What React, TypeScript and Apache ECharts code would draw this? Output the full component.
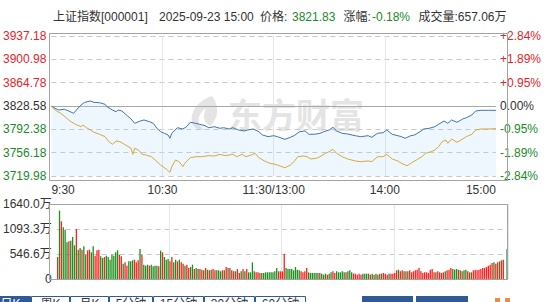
import React, { useEffect, useRef } from "react";
import * as echarts from "echarts";

// ---------- data ----------
const stockName = "上证指数[000001]";
const quoteTime = "2025-09-23 15:00";
const lastPrice = "3821.83";
const changePct = "-0.18%";
const totalVolume = "657.06万";
const preClose = 3828.58;
const priceStep = 36.2;
const volumeMax = 1640;

const timeLabelIdx = [0, 60, 120, 180, 240];

// index line (minute index, value)
const priceIdx = [0,2,4,7,9,12,14,16,18,21,23,26,29,30,33,35,36,38,41,43,45,48,50,53,55,57,59,61,63,64,65,68,71,73,75,78,80,83,85,88,91,93,96,98,101,104,106,109,112,114,117,120,122,126,129,131,134,137,139,142,145,147,150,152,154,157,160,164,167,171,173,176,179,181,184,187,189,191,194,196,199,201,204,207,209,212,214,216,219,222,224,227,229,232,236,240];
const priceValues = [3828.58,3825.0,3822.4,3823.5,3821.3,3817.3,3823.9,3830.1,3834.3,3836.3,3834.3,3833.7,3831.2,3827.5,3822.4,3819.7,3822.4,3820.9,3813.5,3808.4,3801.7,3805.3,3806.9,3804.2,3801.7,3794.0,3788.7,3786.2,3783.6,3778.5,3786.2,3794.9,3792.9,3796.5,3803.3,3801.7,3800.2,3798.0,3794.9,3796.5,3794.0,3794.9,3792.9,3794.9,3791.4,3789.8,3791.4,3792.9,3788.7,3783.6,3781.0,3782.5,3781.0,3776.9,3780.0,3782.5,3788.7,3789.8,3784.7,3784.7,3786.2,3788.7,3791.4,3795.5,3789.8,3786.2,3785.1,3782.5,3781.0,3782.5,3780.0,3786.2,3787.1,3791.4,3784.7,3782.5,3781.0,3778.5,3782.5,3783.6,3788.7,3792.9,3794.0,3796.5,3800.2,3805.3,3801.7,3806.9,3803.3,3808.4,3810.4,3814.6,3820.8,3821.9,3821.9,3821.83];

// yellow leading line
const leadIdx = [0,2,5,8,10,13,16,17,19,21,23,26,29,31,33,35,37,40,43,44,45,47,49,51,54,57,59,62,64,65,67,69,71,72,75,78,81,85,88,91,94,98,100,103,105,108,110,112,115,118,120,122,126,129,131,133,136,138,140,143,145,148,150,152,154,157,160,164,167,171,173,176,179,181,184,187,189,192,194,197,200,202,205,207,209,211,213,214,216,219,222,224,227,229,232,236,240];
const leadValues = [3828.58,3822.4,3817.3,3810.4,3805.3,3800.2,3796.5,3799.2,3794.9,3791.4,3787.8,3784.7,3781.0,3773.2,3769.2,3774.3,3773.2,3768.1,3763.0,3753.6,3763.0,3760.3,3753.6,3752.6,3749.9,3742.2,3737.0,3730.8,3725.7,3734.4,3744.8,3742.2,3734.4,3739.6,3748.4,3749.9,3749.9,3751.5,3751.0,3753.6,3751.5,3753.6,3749.9,3753.6,3749.9,3752.6,3755.2,3748.4,3743.3,3739.6,3738.6,3737.0,3732.8,3737.0,3742.2,3749.9,3751.0,3749.9,3746.4,3747.4,3749.9,3755.2,3757.7,3761.4,3755.2,3749.9,3746.4,3743.3,3742.2,3743.3,3742.2,3749.9,3749.9,3753.6,3746.4,3743.3,3739.6,3735.9,3739.6,3744.8,3749.9,3755.2,3757.7,3760.3,3765.4,3773.2,3775.8,3770.7,3777.4,3772.3,3777.4,3781.0,3784.7,3791.4,3792.9,3792.9,3793.4];

// per-minute volume (万)
const volumes = [
  481,1494,1261,1130,1079,802,824,
  839,918,736,1093,642,678,642,
  714,532,627,642,583,714,510,
  627,642,496,459,481,510,481,
  423,532,510,583,627,532,496,
  335,364,292,386,386,408,423,
  364,408,656,532,313,292,313,
  292,313,277,292,292,277,
  620,583,481,423,437,386,481,364,
  423,386,423,364,335,292,313,
  241,262,313,219,241,219,219,
  204,190,241,204,190,204,219,
  190,190,190,168,190,190,262,
  241,241,190,168,168,219,
  131,168,219,168,219,146,146,
  364,168,146,146,131,131,131,
  146,146,146,146,146,168,
  241,168,168,168,554,241,219,219,
  219,190,262,204,190,168,146,168,
  241,146,131,131,131,131,131,131,
  117,95,117,95,117,146,168,131,
  168,146,146,168,146,146,168,190,
  146,117,117,95,117,95,117,117,
  117,117,95,117,95,117,95,117,
  117,131,117,95,117,117,117,131,
  190,204,168,190,168,168,168,190,
  146,168,190,204,241,168,131,146,
  146,131,204,219,146,146,168,146,
  131,146,168,190,204,241,219,204,
  219,204,190,168,190,204,168,146,
  146,190,204,190,204,219,241,241,
  262,292,313,350,364,335,
  364,386,408,423,
  0,656,
];
// r = up minute, g = down minute
const volumeDir = (
  "rgrgggr" + "gggrggr" + "ggrrggr" + "rrggrgg" + "gggggrr" + "grrgggr" + "rrgrggg" + "rggggr" +
  "grgggrrg" + "grgrrgr" + "rggrggr" + "rgrgrgr" + "rgggrgr" + "rgrrgr" + "rgrgrgg" + "ggrrrgg" + "gggggg" +
  "grrrrggg" + "gggggrrr" + "rggggggr" + "gggrggrr" + "gggggrgg" + "grrrrrgg" + "grggrggr" + "grrrgrrr" +
  "rgrrgrgr" + "rrrrrrrr" + "rrrrrgrr" + "rrgrrrgg" + "grgrggrr" + "grrrrrrr" + "rrrrgr" + "rgrr" + "rg"
).split("");

const tabLabels = ["日K", "周K", "月K", "5分钟", "15分钟", "30分钟", "60分钟"];

// ---------- helpers ----------
function buildTimes(): string[] {
  const out: string[] = [];
  const fmt = (m: number) => `${Math.floor(m / 60)}:${String(m % 60).padStart(2, "0")}`;
  for (let i = 0; i <= 120; i++) out.push(fmt(9 * 60 + 30 + i));
  for (let i = 1; i <= 120; i++) out.push(fmt(13 * 60 + i));
  return out;
}

const RED = "#e3242b";
const GREEN = "#1b8a2a";
const GRAY = "#333333";
const FONT = '"Liberation Sans", Arial, "Noto Sans CJK SC", sans-serif';

function colorFor(v: number) {
  if (v > 0.001) return RED;
  if (v < -0.001) return GREEN;
  return GRAY;
}

echarts.graphic.registerShape(
  "emLogo",
  echarts.graphic.extendPath(
    "M24 0 C12 4 2 14 4 26 C5 31 10 34 16 34 C8 28 9 18 18 12 C14 20 16 27 22 30 C30 24 32 10 24 0 Z",
    {}
  )
);

export default function App() {
  const ref = useRef<HTMLDivElement>(null);

  useEffect(() => {
    document.body.style.margin = "0";
    if (!ref.current) return;
    const chart = echarts.init(ref.current, undefined, { renderer: "svg" });
    const times = buildTimes();
    const span = priceStep * 3;

    const tabEdges = [-10, 31, 70, 109, 153, 204, 255, 306];
    const tabGraphics: any[] = [];
    tabLabels.forEach((t, i) => {
      const x0 = tabEdges[i];
      const x1 = tabEdges[i + 1];
      tabGraphics.push({
        type: "rect",
        shape: { x: x0 + 0.5, y: 296.5, width: x1 - x0 - 1, height: 20 },
        style: { fill: i === 0 ? "#2f5b94" : "#ffffff", stroke: "#2f5b94", lineWidth: 1 },
        z: 20,
      });
      tabGraphics.push({
        type: "text",
        style: {
          text: t, x: (x0 + x1) / 2, y: 297.5,
          fill: i === 0 ? "#ffffff" : "#333333",
          font: `12px ${FONT}`,
          align: "center", textAlign: "center", verticalAlign: "top", textVerticalAlign: "top",
        },
        z: 21,
      });
    });
    [[362, 413], [416, 468]].forEach(([a, b]) =>
      tabGraphics.push({
        type: "rect",
        shape: { x: a, y: 296, width: b - a, height: 20 },
        style: { fill: "#2f5b94" },
        z: 20,
      })
    );
    [[495, 500], [505, 510]].forEach(([a, b]) =>
      tabGraphics.push({
        type: "rect",
        shape: { x: a, y: 298, width: b - a, height: 6 },
        style: { fill: "#f08a3c" },
        z: 20,
      })
    );

    const titleText = (text: string, x: number, fill: string) => ({
      type: "text",
      style: {
        text, x, y: 17, fill, font: `12px ${FONT}`,
        verticalAlign: "middle", textVerticalAlign: "middle",
      },
      z: 20,
    });

    const option: any = {
      animation: false,
      backgroundColor: "#ffffff",
      grid: [
        { left: 50, right: 36, top: 36, height: 140 },
        { left: 50, right: 36, top: 204, height: 75 },
      ],
      xAxis: [
        {
          type: "category", gridIndex: 0, data: times, boundaryGap: false,
          axisLine: { show: false }, axisTick: { show: false },
          axisLabel: {
            interval: (i: number) => timeLabelIdx.includes(i),
            formatter: (v: string, i: number) => (i === 120 ? "11:30/13:00" : v),
            color: GRAY, fontSize: 12, fontFamily: FONT, margin: 8,
            alignMinLabel: "left", alignMaxLabel: "right",
            showMinLabel: true, showMaxLabel: true,
          },
          splitLine: {
            show: true,
            interval: (i: number) => i === 60 || i === 120 || i === 180,
            lineStyle: { color: "#e6e6e6", width: 1 },
          },
        },
        {
          type: "category", gridIndex: 1, data: times, boundaryGap: true,
          axisLine: { show: false }, axisTick: { show: false }, axisLabel: { show: false },
          splitLine: {
            show: true,
            interval: (i: number) => i === 60 || i === 120 || i === 180,
            lineStyle: { color: "#e6e6e6", width: 1 },
          },
        },
      ],
      yAxis: [
        {
          type: "value", gridIndex: 0, min: -span, max: span, interval: priceStep,
          axisLine: { show: false }, axisTick: { show: false },
          axisLabel: {
            formatter: (v: number) => (v + preClose).toFixed(2),
            color: (v: any) => colorFor(Number(v)),
            fontSize: 12, fontFamily: FONT, margin: 5,
          },
          splitLine: { show: true, lineStyle: { color: "#c8c8c8", type: [5, 4], width: 1 } },
        },
        {
          type: "value", gridIndex: 0, position: "right", min: -span, max: span, interval: priceStep,
          axisLine: { show: false }, axisTick: { show: false },
          axisLabel: {
            formatter: (v: number) => {
              const p = (v / preClose) * 100;
              if (Math.abs(p) < 0.001) return "0.00%";
              return (p > 0 ? "+" : "") + p.toFixed(2) + "%";
            },
            color: (v: any) => colorFor(Number(v)),
            fontSize: 12, fontFamily: FONT, margin: 4,
          },
          splitLine: { show: false },
        },
        {
          type: "value", gridIndex: 1, min: 0, max: volumeMax, interval: volumeMax / 3,
          axisLine: { show: false }, axisTick: { show: false },
          axisLabel: {
            formatter: (v: number) => (v < 0.01 ? "0" : (Math.floor(v * 10 + 1e-6) / 10).toFixed(1) + "万"),
            color: GRAY, fontSize: 12, fontFamily: FONT, margin: 5,
          },
          splitLine: { show: true, lineStyle: { color: "#c8c8c8", type: [5, 4], width: 1 } },
        },
      ],
      graphic: [
        {
          type: "text",
          style: {
            text: "东方财富", x: 228, y: 113, fill: "#e4e4e4",
            font: `bold 34px "Noto Sans CJK SC", sans-serif`,
            verticalAlign: "middle", textVerticalAlign: "middle",
          },
          z: 0,
        },
        { type: "emLogo", x: 188, y: 96, scaleX: 1, scaleY: 1, style: { fill: "#e4e4e4" }, z: 0 },
        titleText(stockName, 53, GRAY),
        titleText(quoteTime, 159, GRAY),
        titleText("价格:", 260, GRAY),
        titleText(lastPrice, 292, GREEN),
        titleText("涨幅:", 343.5, GRAY),
        titleText(changePct, 372, GREEN),
        titleText("成交量:" + totalVolume, 418.5, GRAY),
        {
          type: "rect",
          shape: { x: 49.5, y: 33.5, width: 458, height: 147 },
          style: { fill: "none", stroke: "#a3a3a3", lineWidth: 1 },
          z: 30,
        },
        {
          type: "rect",
          shape: { x: 49.5, y: 204.5, width: 458, height: 75 },
          style: { fill: "none", stroke: "#a3a3a3", lineWidth: 1 },
          z: 30,
        },
        ...tabGraphics,
      ],
      series: [
        {
          type: "line", xAxisIndex: 0, yAxisIndex: 0, symbol: "none", z: 5,
          data: priceIdx.map((x, i) => [x, priceValues[i] - preClose]),
          lineStyle: { color: "#4173b3", width: 1 },
          areaStyle: { origin: "start", color: "rgba(170,215,245,0.28)" },
          markLine: {
            silent: true, symbol: "none", label: { show: false },
            lineStyle: { color: "#a8a8a8", type: "solid", width: 1 },
            data: [{ yAxis: 0 }],
          },
        },
        {
          type: "line", xAxisIndex: 0, yAxisIndex: 0, symbol: "none", z: 6,
          data: leadIdx.map((x, i) => [x, leadValues[i] - preClose]),
          lineStyle: { color: "#d6a83c", width: 1 },
        },
        {
          type: "bar", xAxisIndex: 1, yAxisIndex: 2, barCategoryGap: "30%",
          data: volumes.map((v, i) => ({
            value: v,
            itemStyle: { color: volumeDir[i] === "r" ? "#ff2020" : "#1e8f1e" },
          })),
        },
      ],
    };

    chart.setOption(option);
    return () => chart.dispose();
  }, []);

  return <div ref={ref} style={{ width: 544, height: 302 }} />;
}
